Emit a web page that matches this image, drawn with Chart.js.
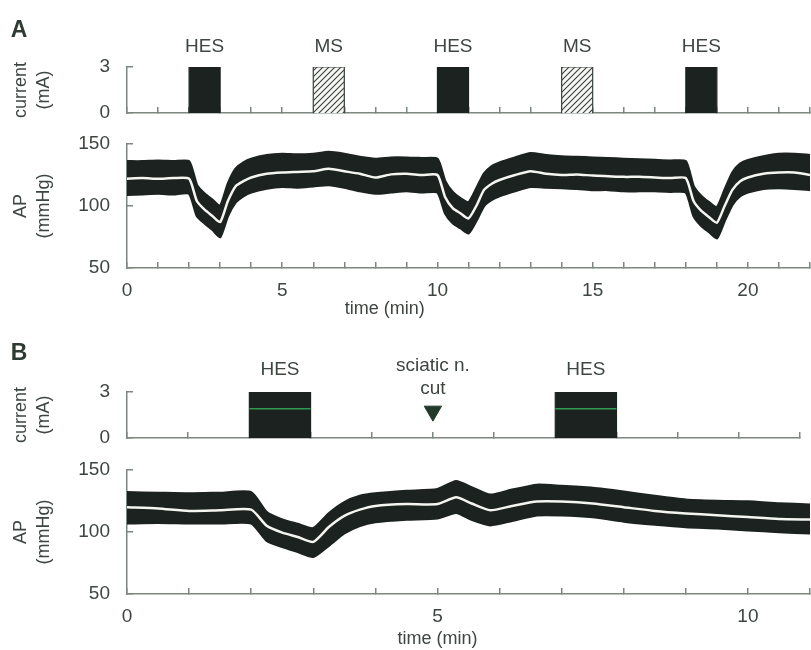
<!DOCTYPE html>
<html>
<head>
<meta charset="utf-8">
<script src="https://cdn.jsdelivr.net/npm/chart.js@4"></script>
<style>
  html, body { margin: 0; padding: 0; background: #fff; }
  #fig { position: relative; width: 811px; height: 650px; overflow: hidden; }
  #fig canvas { position: absolute; left: 0; }
</style>
</head>
<body>
<div id="fig">
  <canvas id="curA" width="811" height="125" style="top:0px"></canvas>
  <canvas id="apA" width="811" height="200" style="top:125px"></canvas>
  <canvas id="curB" width="811" height="125" style="top:325px"></canvas>
  <canvas id="apB" width="811" height="200" style="top:450px"></canvas>
</div>
<script>
// --- Panel A: stimulation protocol (min, mA) ---
const stimNamesA = ["HES", "MS", "HES", "MS", "HES"];
const stimStartA = [2, 6, 10, 14, 18];
const stimEndA = [3, 7, 11, 15, 19];
const stimAmpA = [3, 3, 3, 3, 3];

// --- Panel A: arterial pressure (min, mmHg) ---
const timeA = [0, 0.5, 1, 1.5, 2, 2.25, 2.5, 2.75, 3, 3.25, 3.5, 3.75, 4, 4.5, 5, 5.5, 6, 6.5, 7, 7.5, 8, 8.5, 9, 9.5, 10,
    10.25, 10.5, 10.75, 11, 11.25, 11.5, 11.75, 12, 12.5, 13, 13.5, 14, 14.5, 15, 15.5, 16, 16.5, 17, 17.5, 18,
    18.25, 18.5, 18.75, 19, 19.25, 19.5, 19.75, 20, 20.5, 21, 21.5, 22];
const apMeanA = [122, 122.5, 122, 122.5, 122, 104, 97, 92, 87, 104, 116, 120, 123, 126, 127, 127.5, 128, 130, 128, 126, 123, 125.5, 126, 125, 125,
    107, 98, 94, 90, 100, 113, 118, 121, 125, 128, 126, 125, 125.5, 124.5, 124, 123.5, 123.5, 123, 122.5, 122.5,
    104, 96, 91, 86.5, 100, 113, 120, 123, 126, 127, 127, 125];
const apSysA = [136, 136, 136.5, 136, 136, 117, 110, 105, 100, 118, 130, 135, 138, 141, 142, 141.5, 142, 143.5, 142, 139.5, 138, 139, 139, 138.5, 138,
    120, 111, 106, 103, 114, 126, 132, 135, 139, 142.5, 141, 140, 139.5, 139, 138.5, 138, 137.5, 137, 136.5, 136,
    116, 108, 103, 99, 113, 127, 134, 137, 140, 142, 142, 141];
const apDiaA = [109, 109.5, 110, 109.5, 110, 92, 86, 81, 75, 92, 103, 108, 111, 114, 115.5, 115, 116, 117, 115, 112, 110, 111, 112, 111, 111,
    94, 86, 82, 78, 88, 100, 105, 108, 112, 115.5, 115, 114.5, 114, 113, 113, 112, 112, 112, 111.5, 111,
    92, 84, 79, 74, 88, 101, 108, 111, 114, 114.5, 114, 113];

// --- Panel B: stimulation protocol and nerve section ---
const stimNamesB = ["HES", "HES"];
const stimStartB = [2, 7];
const stimEndB = [3, 8];
const stimAmpB = [3, 3];
const stimLevelB = [1.9, 1.9];
const cutTime = 5;
const cutLevel = 1.75;
const cutText = ["sciatic n.", "cut"];

// --- Panel B: arterial pressure ---
const timeB = [0, 0.5, 1, 1.5, 2, 2.25, 2.5, 2.75, 3, 3.25, 3.5, 3.75, 4, 4.5, 5, 5.3, 5.55, 5.85, 6.2, 6.6, 7, 7.5, 8, 8.5, 9, 9.5, 10, 10.5, 11];
const apMeanB = [120, 119, 117, 117.5, 118, 105, 99.5, 96, 92, 104, 113, 118, 121, 122.5, 122.5, 128, 123, 117.5, 121, 124.5, 124.5, 123, 120, 117, 115, 113.5, 112, 110.5, 110];
const apSysB = [132, 131.5, 131, 131.5, 132, 116, 110, 106.5, 103, 115, 124, 129, 131, 133, 134.5, 141, 136, 130, 134, 138, 137, 135.5, 132.5, 129, 126, 125, 124.5, 123, 122];
const apDiaB = [107, 107.5, 107, 107, 107, 93, 88, 84, 80, 89, 99, 105, 108, 110, 111, 115.5, 110, 105.5, 109, 113.5, 113.5, 112, 108.5, 106, 104, 103, 101.5, 100, 99];

// axis ticks and titles
const currentTicks = [0, 3];
const apTicks = [50, 100, 150];
const timeLabelsA = [0, 5, 10, 15, 20];
const timeLabelsB = [0, 5, 10];
const timeTitle = "time (min)";
const timeTitlePosA = 8.3;
const timeTitlePosB = 5;

const FONT = '"Liberation Sans", Arial, Helvetica, sans-serif';
const INK = "#3e4641";
const AXIS = "#7b877f";
const DARK = "#1c221f";

Chart.defaults.font.family = FONT;

const pts = (t, v) => t.map((x, i) => ({ x: x, y: v[i] }));

// diagonal hatch used for the MS blocks
function makeHatch() {
    const s = 6;
    const c = document.createElement("canvas");
    c.width = s; c.height = s;
    const g = c.getContext("2d");
    g.fillStyle = "#f7f7f5";
    g.fillRect(0, 0, s, s);
    g.strokeStyle = "#3a403c";
    g.lineWidth = 1.1;
    g.beginPath();
    g.moveTo(0, s); g.lineTo(s, 0);
    g.moveTo(-1, 1); g.lineTo(1, -1);
    g.moveTo(s - 1, s + 1); g.lineTo(s + 1, s - 1);
    g.stroke();
    return g.createPattern(c, "repeat");
}
const hatch = makeHatch();

// fixed axis box; label overhang must not shrink the plot area
function pinSize(s, w, h) {
    if (w !== null) s.width = w;
    if (h !== null) s.height = h;
    s.paddingTop = 0; s.paddingBottom = 0;
    s.paddingLeft = 0; s.paddingRight = 0;
}

function xScale(max, labels, height) {
    return {
        type: "linear", min: 0, max: max,
        border: { color: AXIS, width: 1.5 },
        grid: { drawOnChartArea: false, drawTicks: true, tickLength: -6, color: AXIS, lineWidth: 1.5 },
        ticks: {
            stepSize: 1, autoSkip: false, maxRotation: 0, padding: 17, color: INK,
            font: { size: 19 },
            callback: v => labels.includes(v) ? String(v) : ""
        },
        afterFit: s => pinSize(s, null, height)
    };
}

function yScale(min, max, ticks, title) {
    return {
        min: min, max: max,
        border: { color: AXIS, width: 1.5 },
        grid: { drawOnChartArea: false, drawTicks: true, tickLength: -6, color: AXIS, lineWidth: 1.5 },
        afterBuildTicks: s => { s.ticks = ticks.map(v => ({ value: v })); },
        ticks: { padding: 23, color: INK, font: { size: 19 } },
        title: { display: true, text: title, color: INK, font: { size: 18, lineHeight: 1.25 }, padding: { top: 10, bottom: 0 } },
        afterFit: s => pinSize(s, 127, null)
    };
}

// text placed at data positions (lift in px above the point), plus the panel letter
function notes(id, marks, panel, panelY) {
    return {
        id: id,
        afterDatasetsDraw(chart) {
            const { ctx } = chart;
            const x = chart.scales.x, y = chart.scales.y;
            ctx.save();
            ctx.fillStyle = INK;
            ctx.textAlign = "center";
            ctx.textBaseline = "middle";
            marks.forEach(m => {
                ctx.font = (m.size || 19) + "px " + FONT;
                ctx.fillText(m.text, x.getPixelForValue(m.x), y.getPixelForValue(m.y) - m.lift);
            });
            if (panel) {
                ctx.fillStyle = "#2f3a33";
                ctx.font = "bold 23px " + FONT;
                ctx.fillText(panel, 19, panelY);
            }
            ctx.restore();
        }
    };
}

function stimBlocks(names, starts, ends, amps) {
    return starts.map((s, i) => ({
        data: [{ x: s, y: 0 }, { x: s, y: amps[i] }, { x: ends[i], y: amps[i] }, { x: ends[i], y: 0 }],
        fill: "origin",
        backgroundColor: names[i] === "MS" ? hatch : DARK,
        borderColor: names[i] === "MS" ? "#3a403c" : DARK,
        borderWidth: 1.2,
        pointRadius: 0,
        tension: 0
    }));
}

function pressureSets(t, mean, sys, dia) {
    return [
        { data: pts(t, mean), borderColor: "#f5f5f1", borderWidth: 2.5, pointRadius: 0, fill: false, tension: 0.2 },
        { data: pts(t, sys), borderColor: DARK, borderWidth: 2.5, pointRadius: 0, fill: "+1", backgroundColor: DARK, tension: 0.2 },
        { data: pts(t, dia), borderColor: DARK, borderWidth: 2.5, pointRadius: 0, fill: false, tension: 0.2 }
    ];
}

const base = {
    responsive: false,
    animation: false,
    events: [],
    plugins: { legend: { display: false }, tooltip: { enabled: false } }
};

// A: current
new Chart(document.getElementById("curA"), {
    type: "line",
    data: { datasets: stimBlocks(stimNamesA, stimStartA, stimEndA, stimAmpA) },
    options: Object.assign({}, base, {
        layout: { padding: { top: 67, right: 1, left: 0, bottom: 0 } },
        scales: { x: xScale(22, [], 12), y: yScale(0, 3, currentTicks, ["current", "(mA)"]) }
    }),
    plugins: [notes("notesA", stimNamesA.map((n, i) => ({ text: n, x: (stimStartA[i] + stimEndA[i]) / 2, y: stimAmpA[i], lift: 20 })), "A", 31)]
});

// A: arterial pressure
new Chart(document.getElementById("apA"), {
    type: "line",
    data: { datasets: pressureSets(timeA, apMeanA, apSysA, apDiaA) },
    options: Object.assign({}, base, {
        layout: { padding: { top: 19, right: 1, left: 0, bottom: 0 } },
        scales: { x: xScale(22, timeLabelsA, 57), y: yScale(50, 150, apTicks, ["AP", "(mmHg)"]) }
    }),
    plugins: [notes("timeA", [{ text: timeTitle, x: timeTitlePosA, y: 50, lift: -41, size: 18 }], "", 0)]
});

// B: current, with the green level line and the nerve-cut marker
const curBSets = stimBlocks(stimNamesB, stimStartB, stimEndB, stimAmpB);
stimStartB.forEach((s, i) => {
    curBSets.unshift({
        data: [{ x: s, y: stimLevelB[i] }, { x: stimEndB[i], y: stimLevelB[i] }],
        borderColor: "#2f9a52", borderWidth: 1.5, pointRadius: 0, fill: false
    });
});
curBSets.unshift({
    data: [{ x: cutTime, y: cutLevel }],
    showLine: false,
    pointStyle: "triangle",
    rotation: 180,
    pointRadius: 10,
    pointBackgroundColor: "#223a2c",
    pointBorderColor: "#223a2c"
});
const marksB = stimNamesB.map((n, i) => ({ text: n, x: (stimStartB[i] + stimEndB[i]) / 2, y: stimAmpB[i], lift: 22 }));
marksB.push({ text: cutText[0], x: cutTime, y: cutLevel, lift: 45 });
marksB.push({ text: cutText[1], x: cutTime, y: cutLevel, lift: 22 });

new Chart(document.getElementById("curB"), {
    type: "line",
    data: { datasets: curBSets },
    options: Object.assign({}, base, {
        layout: { padding: { top: 67, right: 1, left: 0, bottom: 0 } },
        scales: { x: xScale(11, [], 12), y: yScale(0, 3, currentTicks, ["current", "(mA)"]) }
    }),
    plugins: [notes("notesB", marksB, "B", 29)]
});

// B: arterial pressure
new Chart(document.getElementById("apB"), {
    type: "line",
    data: { datasets: pressureSets(timeB, apMeanB, apSysB, apDiaB) },
    options: Object.assign({}, base, {
        layout: { padding: { top: 20, right: 1, left: 0, bottom: 0 } },
        scales: { x: xScale(11, timeLabelsB, 56), y: yScale(50, 150, apTicks, ["AP", "(mmHg)"]) }
    }),
    plugins: [notes("timeB", [{ text: timeTitle, x: timeTitlePosB, y: 50, lift: -45, size: 18 }], "", 0)]
});
</script>
</body>
</html>
